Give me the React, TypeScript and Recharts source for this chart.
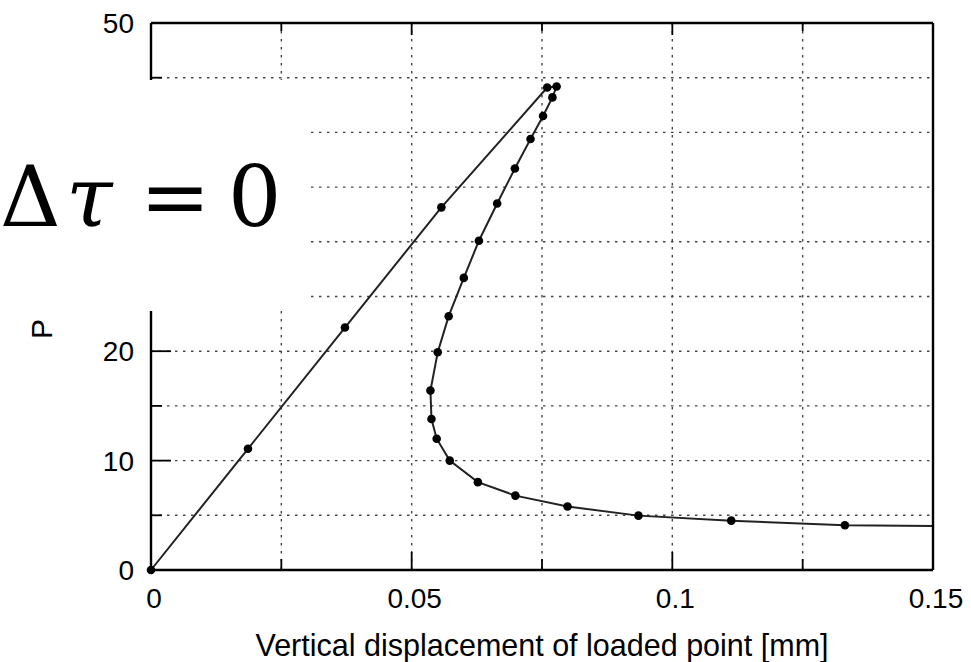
import { LineChart, Line, XAxis, YAxis, CartesianGrid } from "recharts";

// P against vertical displacement
const dispMm = [
  0, 0.0186, 0.0372, 0.0557, 0.076, 0.0778, 0.077, 0.0752, 0.0728, 0.0698, 0.0664, 0.0629, 0.06,
  0.0571, 0.055, 0.0536, 0.0538, 0.0548, 0.0573, 0.0627, 0.0699, 0.0799, 0.0935, 0.1113, 0.1331, 0.15,
];
const loadP = [
  0, 11.08, 22.16, 33.15, 44.1, 44.2, 43.2, 41.5, 39.4, 36.7, 33.5, 30.1, 26.7, 23.2, 19.9, 16.4,
  13.8, 12.0, 10.0, 8.03, 6.8, 5.8, 4.97, 4.51, 4.09, 4.03,
];
// the last point is only where the curve leaves the frame, no marker there
const hasMarker = dispMm.map((_, i) => i < dispMm.length - 1);

const xTicks = [0, 0.025, 0.05, 0.075, 0.1, 0.125, 0.15];
const xLabels: Record<string, string> = { "0": "0", "0.05": "0.05", "0.1": "0.1", "0.15": "0.15" };
const yTicks = [0, 5, 10, 15, 20, 25, 30, 35, 40, 45, 50];
const yLabels: Record<string, string> = { "0": "0", "10": "10", "20": "20", "30": "30", "40": "40", "50": "50" };

const data = dispMm.map((x, i) => ({ x, p: loadP[i], mark: hasMarker[i] }));

const SANS = "'Liberation Sans', Arial, Helvetica, sans-serif";
const SERIF = "'DejaVu Serif', 'Liberation Serif', serif";

const BottomTick = (props: any) => {
  const { x, y, payload } = props;
  const label = xLabels[String(payload.value)];
  return (
    <g>
      <line x1={x} x2={x} y1={y} y2={y - (label ? 18 : 11)} stroke="#000" strokeWidth={1.8} />
      {label && (
        <text x={x + 3} y={y + 38} textAnchor="middle" fontSize={28} fontFamily={SANS} fill="#000">
          {label}
        </text>
      )}
    </g>
  );
};

const TopTick = (props: any) => {
  const { x, y, payload } = props;
  const major = xLabels[String(payload.value)];
  return <line x1={x} x2={x} y1={y} y2={y + (major ? 12 : 8)} stroke="#000" strokeWidth={1.8} />;
};

const LeftTick = (props: any) => {
  const { x, y, payload } = props;
  const label = yLabels[String(payload.value)];
  return (
    <g>
      <line x1={x} x2={x + (label ? 20 : 11)} y1={y} y2={y} stroke="#000" strokeWidth={1.8} />
      {label && (
        <text x={x - 17} y={y + 10} textAnchor="end" fontSize={28} fontFamily={SANS} fill="#000">
          {label}
        </text>
      )}
    </g>
  );
};

const RightTick = (props: any) => {
  const { x, y, payload } = props;
  const major = yLabels[String(payload.value)];
  return <line x1={x} x2={x - (major ? 12 : 10)} y1={y} y2={y} stroke="#000" strokeWidth={1.8} />;
};

const renderDot = (props: any) => {
  const { cx, cy, index, payload } = props;
  if (!payload.mark) return <g key={`d${index}`} />;
  return <circle key={`d${index}`} cx={cx} cy={cy} r={4.3} fill="#000" />;
};

const frame = { stroke: "#000", strokeWidth: 2.4 };

export default function App() {
  return (
    <div style={{ position: "absolute", left: 0, top: 0, width: 971, height: 662, background: "#fff" }}>
      <LineChart width={971} height={662} data={data} margin={{ top: 22, right: 37, left: 0, bottom: 0 }}>
        <CartesianGrid stroke="#444" strokeWidth={1.4} strokeDasharray="2.5 5.5" />
        <XAxis
          dataKey="x"
          type="number"
          domain={[0, 0.15]}
          ticks={xTicks}
          interval={0}
          height={92}
          axisLine={frame}
          tickLine={false}
          tickSize={0}
          tickMargin={0}
          tick={<BottomTick />}
          label={{
            value: "Vertical displacement of loaded point [mm]",
            position: "insideBottom",
            offset: 6,
            fontSize: 30.5,
            fontFamily: SANS,
            fill: "#000",
          }}
        />
        <XAxis
          xAxisId="top"
          orientation="top"
          dataKey="x"
          type="number"
          domain={[0, 0.15]}
          ticks={xTicks}
          interval={0}
          height={1}
          axisLine={frame}
          tickLine={false}
          tickSize={0}
          tickMargin={0}
          tick={<TopTick />}
        />
        <YAxis
          type="number"
          domain={[0, 50]}
          ticks={yTicks}
          interval={0}
          width={151}
          axisLine={frame}
          tickLine={false}
          tickSize={0}
          tickMargin={0}
          tick={<LeftTick />}
        />
        <YAxis
          yAxisId="right"
          orientation="right"
          type="number"
          domain={[0, 50]}
          ticks={yTicks}
          interval={0}
          width={1}
          axisLine={frame}
          tickLine={false}
          tickSize={0}
          tickMargin={0}
          tick={<RightTick />}
        />
        <Line
          dataKey="p"
          type="linear"
          stroke="#222"
          strokeWidth={2}
          dot={renderDot}
          activeDot={false}
          isAnimationActive={false}
        />
      </LineChart>

      {/* the pasted-over box with the annotation */}
      <div style={{ position: "absolute", left: 0, top: 80, width: 306, height: 231, background: "#fff" }} />
      <div
        style={{
          position: "absolute",
          left: 0,
          top: 149,
          height: 96,
          lineHeight: "96px",
          fontSize: 84,
          fontFamily: SERIF,
          color: "#000",
          whiteSpace: "nowrap",
        }}
      >
        <span style={{ position: "absolute", left: 0 }}>Δ</span>
        <span style={{ position: "absolute", left: 66, fontStyle: "italic" }}>τ</span>
        <span style={{ position: "absolute", left: 140 }}>=</span>
        <span style={{ position: "absolute", left: 228 }}>0</span>
      </div>
      <div
        style={{
          position: "absolute",
          left: 52,
          top: 314,
          fontSize: 30,
          lineHeight: "30px",
          fontFamily: SANS,
          color: "#000",
          transform: "rotate(-90deg)",
          transformOrigin: "0 25px",
          whiteSpace: "nowrap",
        }}
      >
        P
      </div>
    </div>
  );
}
